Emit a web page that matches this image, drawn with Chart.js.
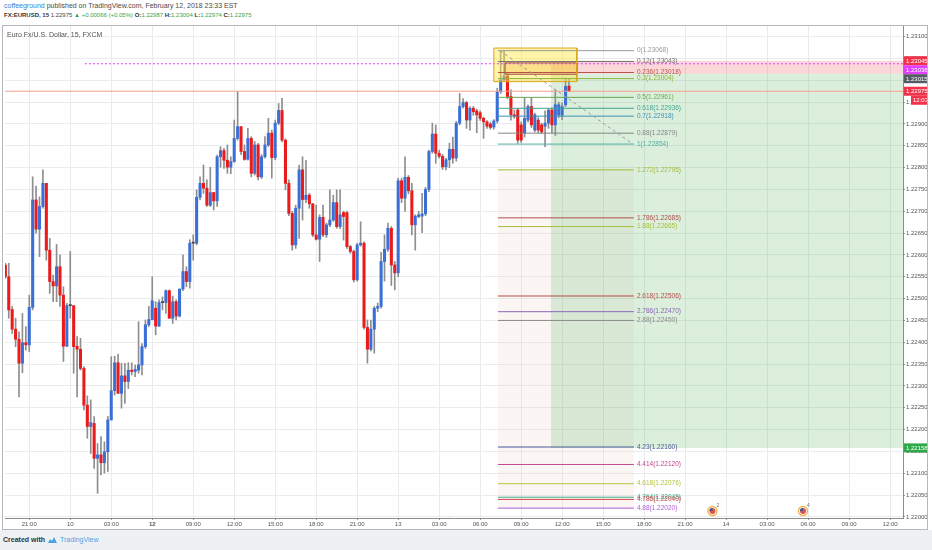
<!DOCTYPE html>
<html>
<head>
<meta charset="utf-8">
<script src="https://cdn.jsdelivr.net/npm/chart.js@4.4.1/dist/chart.umd.min.js"></script>
<style>
  html, body { margin: 0; padding: 0; }
  body { width: 932px; height: 550px; position: relative; overflow: hidden; background: #fff;
         font-family: "Liberation Sans", Arial, sans-serif; }
  .hd { position: absolute; left: 4px; font-size: 7px; line-height: 9px; color: #4a4a4a; white-space: nowrap; }
  .hd b { color: #333; }
  .g { color: #3c9f47; }
  .u { color: #3a7fd0; }
  #frame { position: absolute; left: 2px; top: 25px; width: 926px; height: 505px;
           border: 1px solid #b4b8be; box-sizing: border-box; background: #fff; }
  #wrap { position: relative; width: 924px; height: 503px; }
  #sym { position: absolute; left: 4px; top: 5px; font-size: 7px; color: #555; white-space: nowrap; }
  #foot { position: absolute; left: 0; top: 530px; width: 932px; height: 20px; background: #eef1f4;
          font-size: 7px; line-height: 20px; white-space: nowrap; }
  #foot .c { position: absolute; left: 3px; color: #333; font-weight: bold; }
  #foot svg { position: absolute; left: 47px; top: 6px; }
  #foot .t { position: absolute; left: 60px; color: #4aa3df; }
</style>
</head>
<body>
<div class="hd" style="top:1px"><span class="u">coffeeground</span> published on TradingView.com, February 12, 2018 23:33 EST</div>
<div class="hd" style="top:11px;font-size:6px"><b>FX:EURUSD, 15</b> 1.22975 <span class="g">&#9650; +0.00066 (+0.05%)</span> <b>O:</b><span class="g">1.22987</span> <b>H:</b><span class="g">1.23004</span> <b>L:</b><span class="g">1.22974</span> <b>C:</b><span class="g">1.22975</span></div>
<div id="frame"><div id="wrap"><canvas id="chart"></canvas><div id="sym">Euro Fx/U.S. Dollar, 15, FXCM</div></div></div>
<div id="foot"><span class="c">Created with</span>
  <svg width="11" height="8" viewBox="0 0 11 8"><path d="M1 7 L3 3 L5 5 L7 1 L10 7 Z" fill="#4aa3df"/></svg>
  <span class="t">TradingView</span></div>
<script>
// === Dados (candles de 15 min, indice da barra no eixo x) ===
const opens = [
  1.22577, 1.22550, 1.22475, 1.22430, 1.22407, 1.22352, 1.22399, 1.22394, 1.22480, 1.22726,
  1.22659, 1.22711, 1.22764, 1.22611, 1.22539, 1.22529, 1.22573, 1.22508, 1.22391, 1.22484,
  1.22484, 1.22391, 1.22384, 1.22340, 1.22256, 1.22207, 1.22214, 1.22134, 1.22142, 1.22124,
  1.22149, 1.22222, 1.22289, 1.22353, 1.22283, 1.22323, 1.22310, 1.22336, 1.22333, 1.22336,
  1.22348, 1.22390, 1.22440, 1.22452, 1.22478, 1.22437, 1.22491, 1.22491, 1.22518, 1.22455,
  1.22493, 1.22460, 1.22522, 1.22562, 1.22539, 1.22627, 1.22627, 1.22732, 1.22764, 1.22753,
  1.22714, 1.22743, 1.22724, 1.22825, 1.22839, 1.22817, 1.22801, 1.22814, 1.22867, 1.22894,
  1.22837, 1.22819, 1.22867, 1.22787, 1.22852, 1.22779, 1.22825, 1.22852, 1.22879, 1.22823,
  1.22902, 1.22931, 1.22863, 1.22764, 1.22695, 1.22623, 1.22707, 1.22795, 1.22727, 1.22737,
  1.22717, 1.22646, 1.22636, 1.22686, 1.22646, 1.22669, 1.22680, 1.22720, 1.22665, 1.22697,
  1.22697, 1.22619, 1.22608, 1.22543, 1.22623, 1.22627, 1.22434, 1.22384, 1.22430, 1.22478,
  1.22482, 1.22585, 1.22613, 1.22661, 1.22577, 1.22559, 1.22770, 1.22730, 1.22778, 1.22747,
  1.22669, 1.22688, 1.22689, 1.22694, 1.22750, 1.22837, 1.22877, 1.22833, 1.22826, 1.22802,
  1.22818, 1.22842, 1.22822, 1.22902, 1.22940, 1.22949, 1.22909, 1.22936, 1.22930, 1.22926,
  1.22913, 1.22905, 1.22900, 1.22893, 1.22907, 1.22974, 1.23001, 1.23010, 1.22963, 1.22921,
  1.22932, 1.22898, 1.22879, 1.22909, 1.22940, 1.22886, 1.22909, 1.22898, 1.22895, 1.22902,
  1.22932, 1.22898, 1.22921, 1.22920, 1.22944, 1.22987
];
const highs = [
  1.22581, 1.22581, 1.22482, 1.22455, 1.22424, 1.22466, 1.22436, 1.22508, 1.22779, 1.22758,
  1.22733, 1.22795, 1.22764, 1.22638, 1.22554, 1.22624, 1.22600, 1.22527, 1.22489, 1.22608,
  1.22484, 1.22413, 1.22409, 1.22344, 1.22277, 1.22268, 1.22230, 1.22168, 1.22184, 1.22172,
  1.22230, 1.22367, 1.22368, 1.22373, 1.22352, 1.22352, 1.22353, 1.22353, 1.22348, 1.22447,
  1.22397, 1.22451, 1.22482, 1.22550, 1.22493, 1.22497, 1.22504, 1.22520, 1.22520, 1.22506,
  1.22497, 1.22522, 1.22600, 1.22573, 1.22635, 1.22646, 1.22749, 1.22779, 1.22806, 1.22772,
  1.22801, 1.22743, 1.22829, 1.22848, 1.22844, 1.22852, 1.22825, 1.22909, 1.22974, 1.22894,
  1.22852, 1.22890, 1.22871, 1.22860, 1.22856, 1.22830, 1.22871, 1.22913, 1.22886, 1.22909,
  1.22947, 1.22959, 1.22866, 1.22772, 1.22700, 1.22714, 1.22806, 1.22825, 1.22817, 1.22741,
  1.22718, 1.22714, 1.22692, 1.22714, 1.22673, 1.22749, 1.22737, 1.22749, 1.22749, 1.22700,
  1.22700, 1.22622, 1.22611, 1.22627, 1.22676, 1.22630, 1.22451, 1.22451, 1.22482, 1.22490,
  1.22606, 1.22646, 1.22673, 1.22665, 1.22585, 1.22776, 1.22776, 1.22825, 1.22782, 1.22764,
  1.22692, 1.22700, 1.22741, 1.22755, 1.22840, 1.22902, 1.22898, 1.22840, 1.22830, 1.22822,
  1.22856, 1.22870, 1.22906, 1.22970, 1.22958, 1.22952, 1.22940, 1.22940, 1.22934, 1.22930,
  1.22916, 1.22908, 1.22904, 1.22910, 1.22982, 1.23066, 1.23068, 1.23016, 1.22978, 1.22932,
  1.22936, 1.22905, 1.22960, 1.22944, 1.22960, 1.22925, 1.22915, 1.22902, 1.22930, 1.22936,
  1.22937, 1.22978, 1.22950, 1.22948, 1.23005, 1.23004
];
const lows = [
  1.22546, 1.22455, 1.22420, 1.22390, 1.22275, 1.22330, 1.22382, 1.22378, 1.22474, 1.22650,
  1.22596, 1.22707, 1.22588, 1.22512, 1.22493, 1.22493, 1.22482, 1.22356, 1.22390, 1.22455,
  1.22329, 1.22275, 1.22336, 1.22245, 1.22180, 1.22145, 1.22111, 1.22054, 1.22096, 1.22100,
  1.22104, 1.22222, 1.22279, 1.22283, 1.22249, 1.22260, 1.22294, 1.22325, 1.22321, 1.22329,
  1.22325, 1.22386, 1.22436, 1.22451, 1.22417, 1.22436, 1.22474, 1.22466, 1.22455, 1.22443,
  1.22451, 1.22458, 1.22518, 1.22527, 1.22524, 1.22588, 1.22623, 1.22726, 1.22741, 1.22711,
  1.22711, 1.22703, 1.22711, 1.22801, 1.22798, 1.22787, 1.22786, 1.22812, 1.22863, 1.22830,
  1.22817, 1.22817, 1.22779, 1.22783, 1.22772, 1.22775, 1.22822, 1.22848, 1.22776, 1.22818,
  1.22898, 1.22859, 1.22749, 1.22690, 1.22611, 1.22615, 1.22638, 1.22680, 1.22720, 1.22707,
  1.22642, 1.22634, 1.22585, 1.22642, 1.22640, 1.22665, 1.22677, 1.22661, 1.22660, 1.22634,
  1.22615, 1.22604, 1.22538, 1.22540, 1.22620, 1.22430, 1.22352, 1.22380, 1.22375, 1.22470,
  1.22478, 1.22540, 1.22608, 1.22530, 1.22520, 1.22550, 1.22720, 1.22700, 1.22740, 1.22646,
  1.22611, 1.22685, 1.22651, 1.22690, 1.22745, 1.22833, 1.22810, 1.22822, 1.22796, 1.22795,
  1.22800, 1.22810, 1.22815, 1.22898, 1.22936, 1.22890, 1.22886, 1.22920, 1.22880, 1.22908,
  1.22867, 1.22890, 1.22888, 1.22888, 1.22902, 1.22970, 1.22998, 1.22958, 1.22909, 1.22913,
  1.22856, 1.22858, 1.22870, 1.22905, 1.22892, 1.22882, 1.22880, 1.22878, 1.22848, 1.22890,
  1.22880, 1.22874, 1.22915, 1.22910, 1.22940, 1.22974
];
const closes = [
  1.22550, 1.22474, 1.22430, 1.22407, 1.22352, 1.22399, 1.22394, 1.22480, 1.22726, 1.22659,
  1.22711, 1.22764, 1.22611, 1.22539, 1.22529, 1.22573, 1.22508, 1.22391, 1.22484, 1.22484,
  1.22390, 1.22384, 1.22340, 1.22256, 1.22207, 1.22216, 1.22134, 1.22142, 1.22124, 1.22149,
  1.22222, 1.22289, 1.22353, 1.22283, 1.22323, 1.22310, 1.22336, 1.22333, 1.22338, 1.22348,
  1.22390, 1.22440, 1.22452, 1.22495, 1.22437, 1.22491, 1.22491, 1.22518, 1.22455, 1.22493,
  1.22460, 1.22522, 1.22562, 1.22539, 1.22627, 1.22627, 1.22732, 1.22764, 1.22753, 1.22714,
  1.22743, 1.22724, 1.22825, 1.22839, 1.22817, 1.22801, 1.22814, 1.22867, 1.22894, 1.22837,
  1.22819, 1.22867, 1.22787, 1.22852, 1.22779, 1.22825, 1.22852, 1.22879, 1.22823, 1.22902,
  1.22931, 1.22863, 1.22764, 1.22695, 1.22623, 1.22707, 1.22795, 1.22727, 1.22737, 1.22717,
  1.22646, 1.22636, 1.22686, 1.22646, 1.22669, 1.22680, 1.22720, 1.22665, 1.22692, 1.22688,
  1.22619, 1.22608, 1.22543, 1.22623, 1.22627, 1.22434, 1.22384, 1.22430, 1.22478, 1.22482,
  1.22585, 1.22613, 1.22661, 1.22577, 1.22559, 1.22770, 1.22730, 1.22778, 1.22747, 1.22669,
  1.22689, 1.22692, 1.22694, 1.22750, 1.22837, 1.22877, 1.22833, 1.22826, 1.22802, 1.22818,
  1.22842, 1.22822, 1.22902, 1.22940, 1.22949, 1.22909, 1.22936, 1.22928, 1.22921, 1.22913,
  1.22905, 1.22895, 1.22892, 1.22907, 1.22974, 1.23001, 1.23010, 1.22963, 1.22921, 1.22918,
  1.22863, 1.22863, 1.22913, 1.22940, 1.22898, 1.22921, 1.22886, 1.22882, 1.22902, 1.22932,
  1.22898, 1.22944, 1.22944, 1.22940, 1.22986, 1.22975
];

// eixo de tempo: um rotulo a cada 12 barras (3h)
const timeLabels = ['21:00', '10', '03:00', '12', '09:00', '12:00', '15:00', '18:00', '21:00', '13', '03:00',
  '06:00', '09:00', '12:00', '15:00', '18:00', '21:00', '14', '03:00', '06:00', '09:00', '12:00'];
const firstLabelBar = 7;
const priceTicks = [1.22000, 1.22050, 1.22100, 1.22150, 1.22200, 1.22250, 1.22300, 1.22350, 1.22400, 1.22450,
  1.22500, 1.22550, 1.22600, 1.22650, 1.22700, 1.22750, 1.22800, 1.22850, 1.22900, 1.22950,
  1.23000, 1.23050, 1.23100];

// Fibonacci (extensao) desenhada sobre o topo
const fibRatios = ['0', '0.12', '0.236', '0.3', '0.5', '0.618', '0.7', '0.88', '1', '1.272', '1.786', '1.88',
  '2.618', '2.786', '2.88', '4.23', '4.414', '4.618', '4.764', '4.786', '4.88'];
const fibPrices = [1.23068, 1.23043, 1.23018, 1.23004, 1.22961, 1.22936, 1.22918, 1.22879, 1.22854, 1.22795,
  1.22685, 1.22665, 1.22506, 1.22470, 1.22450, 1.22160, 1.22120, 1.22076, 1.22045, 1.22040, 1.22020];
const fibBars = [144.2, 184.0];
const fibTrend = [[144.8, 1.23068], [183.7, 1.22854]];

// ferramentas de desenho
const shortPos = { bar: 159.7, stop: 1.23045, entry: 1.23015, target: 1.22158 };
const yellowBox = { bars: [143.0, 167.3], prices: [1.23074, 1.22997] };
const orangeBox = { bars: [146.3, 167.3], prices: [1.23040, 1.23014] };
const hRay = { bar: 23.3, price: 1.23038 };
const lastPrice = 1.22975;
const axisTags = [1.23045, 1.23038, 1.23015, 1.22975, 1.22158];
const countdown = '12:03';
const eventBars = [207, 233.5];
const eventNums = ['2', '4'];

// === Estilos ===
const FONT = '"Liberation Sans", Arial, sans-serif';
const UP = '#3b6fd8', DOWN = '#ea1b1b', WICK = '#8e8e8e';
const GRID = '#e9ecef';
const fibColors = ['#9a9a9a', '#6f6f6f', '#b5534a', '#8fb33a', '#6aa84f', '#3fa58f', '#3d8fb0', '#858585',
  '#4fb0a0', '#a5b83a', '#b0504d', '#a8bf3a', '#b84a4a', '#8a63b8', '#8a8a8a', '#4a5a9a', '#c2478f',
  '#b6c43c', '#3fae8a', '#d0454a', '#b05fd6'];
const tagColors = ['#f0334a', '#e040fb', '#555b66', '#f0334a', '#2ea84a'];

Chart.defaults.font.family = FONT;

function seg(x1, x2, y1, y2, color, extra) {
  return Object.assign({
    type: 'line', data: [{ x: x1, y: y1 }, { x: x2, y: y2 }],
    borderColor: color, borderWidth: 1, pointRadius: 0, fill: false, order: 5
  }, extra || {});
}
function zone(x1, x2, top, bottom, color, order) {
  return {
    type: 'line', data: [{ x: x1, y: top }, { x: x2, y: top }],
    borderColor: 'transparent', borderWidth: 1, pointRadius: 0,
    backgroundColor: color, fill: { value: bottom }, order: order
  };
}
function boxBorder(b, color) {
  const [x1, x2] = b.bars, [t, bt] = b.prices;
  return {
    type: 'line', data: [{ x: x1, y: t }, { x: x2, y: t }, { x: x2, y: bt }, { x: x1, y: bt }, { x: x1, y: t }],
    borderColor: color, borderWidth: 1, pointRadius: 0, fill: false, order: 4
  };
}

const bodyColors = opens.map((o, i) => closes[i] > o ? UP : (closes[i] < o ? DOWN : '#444'));

const datasets = [
  {
    label: 'corpo', data: opens.map((o, i) => ({ x: i, y: [o, closes[i]] })),
    backgroundColor: bodyColors, barThickness: 2.4, minBarLength: 1, grouped: false, order: 19
  },
  {
    label: 'pavio', data: lows.map((l, i) => ({ x: i, y: [l, highs[i]] })),
    backgroundColor: WICK, barThickness: 1, grouped: false, order: 20
  },
  zone(shortPos.bar, 264, shortPos.entry, shortPos.target, 'rgba(76,175,80,0.2)', 30),
  zone(shortPos.bar, 264, shortPos.stop, shortPos.entry, 'rgba(242,54,69,0.2)', 30),
  zone(fibBars[0], fibBars[1], fibPrices[9], fibPrices[20], 'rgba(215,170,150,0.10)', 31),
  zone(yellowBox.bars[0], yellowBox.bars[1], yellowBox.prices[0], yellowBox.prices[1], 'rgba(255,230,60,0.45)', 6),
  zone(orangeBox.bars[0], orangeBox.bars[1], orangeBox.prices[0], orangeBox.prices[1], 'rgba(230,130,60,0.28)', 6),
  boxBorder(yellowBox, '#d9a520'),
  boxBorder(orangeBox, '#a0524a'),
  seg(-1, 264, lastPrice, lastPrice, '#f2a08e'),
  seg(hRay.bar, 264, hRay.price, hRay.price, '#e040fb', { borderDash: [2, 2] }),
  seg(fibTrend[0][0], fibTrend[1][0], fibTrend[0][1], fibTrend[1][1], '#9a9a9a', { borderDash: [3, 3] })
];
fibPrices.forEach((p, k) => datasets.push(seg(fibBars[0], fibBars[1], p, p, fibColors[k])));

const overlay = {
  id: 'overlay',
  afterDatasetsDraw(chart) {
    const { ctx, scales: { x, y } } = chart;
    ctx.save();
    ctx.font = '6.5px ' + FONT;
    ctx.textBaseline = 'middle';
    ctx.textAlign = 'left';
    const lx = x.getPixelForValue(fibBars[1]) + 3;
    fibRatios.forEach((r, k) => {
      ctx.fillStyle = fibColors[k];
      ctx.fillText(r + '(' + fibPrices[k].toFixed(5) + ')', lx, y.getPixelForValue(fibPrices[k]));
    });
    // icones de eventos (EUA)
    eventBars.forEach((b, k) => {
      const cx = x.getPixelForValue(b), cy = chart.chartArea.bottom - 7;
      ctx.beginPath(); ctx.arc(cx, cy, 4.5, 0, Math.PI * 2);
      ctx.fillStyle = '#fff'; ctx.fill();
      ctx.lineWidth = 1.4; ctx.strokeStyle = '#f0b44c'; ctx.stroke();
      ctx.beginPath(); ctx.arc(cx, cy, 3, 0, Math.PI * 2); ctx.fillStyle = '#d9534f'; ctx.fill();
      ctx.beginPath(); ctx.moveTo(cx, cy); ctx.arc(cx, cy, 3, Math.PI, Math.PI * 1.5); ctx.closePath();
      ctx.fillStyle = '#3b5aa0'; ctx.fill();
      ctx.fillStyle = '#777'; ctx.font = '5px ' + FONT;
      ctx.fillText(eventNums[k], cx + 4, cy - 5);
    });
    ctx.restore();
  },
  afterDraw(chart) {
    const { ctx, scales: { y } } = chart;
    const x0 = chart.chartArea.right + 1, w = chart.width - x0, h = 9;
    ctx.save();
    ctx.font = '6px ' + FONT;
    ctx.textBaseline = 'middle';
    ctx.textAlign = 'left';
    let lastBottom = -Infinity;
    axisTags.forEach((p, k) => {
      const top = Math.max(y.getPixelForValue(p) - h / 2, lastBottom);
      ctx.fillStyle = tagColors[k];
      ctx.fillRect(x0, top, w, h);
      ctx.fillStyle = '#fff';
      ctx.fillText(p.toFixed(5), x0 + 2, top + h / 2 + 0.5);
      lastBottom = top + h;
      if (p === lastPrice) {
        ctx.fillStyle = tagColors[k];
        ctx.fillRect(x0 + 7, lastBottom, w - 7, h);
        ctx.fillStyle = '#fff';
        ctx.fillText(countdown, x0 + 9, lastBottom + h / 2 + 0.5);
        lastBottom += h;
      }
    });
    ctx.restore();
  }
};

new Chart(document.getElementById('chart'), {
  type: 'bar',
  data: { datasets },
  options: {
    responsive: true,
    maintainAspectRatio: false,
    animation: false,
    events: [],
    layout: { padding: { left: 2, right: 0, top: 0, bottom: 0 } },
    plugins: { legend: { display: false }, tooltip: { enabled: false } },
    scales: {
      x: {
        type: 'linear', min: -0.1, max: 262.78, offset: false,
        afterBuildTicks: s => { s.ticks = timeLabels.map((_, k) => ({ value: firstLabelBar + 12 * k })); },
        afterFit: s => { s.height = 11; s.paddingLeft = 0; s.paddingRight = 0; },
        grid: { color: GRID, offset: false, tickLength: 2, tickColor: '#9a9a9a' },
        border: { color: '#8c8c8c' },
        ticks: {
          autoSkip: false, maxRotation: 0, padding: 1, color: '#555',
          font: ctx => ({ size: 6, weight: ctx.tick && ctx.tick.label === '12' ? 'bold' : 'normal' }),
          callback: (v, k) => timeLabels[k]
        }
      },
      y: {
        position: 'right', min: 1.219974, max: 1.231245,
        afterBuildTicks: s => { s.ticks = priceTicks.map(v => ({ value: v })); },
        afterFit: s => { s.width = 24; s.paddingTop = 0; s.paddingBottom = 0; },
        grid: { color: GRID, tickLength: 2, tickColor: '#9a9a9a' },
        border: { color: '#8c8c8c' },
        ticks: { padding: 1, color: '#555', font: { size: 6 }, callback: v => v.toFixed(5) }
      }
    }
  },
  plugins: [overlay]
});
</script>
</body>
</html>
